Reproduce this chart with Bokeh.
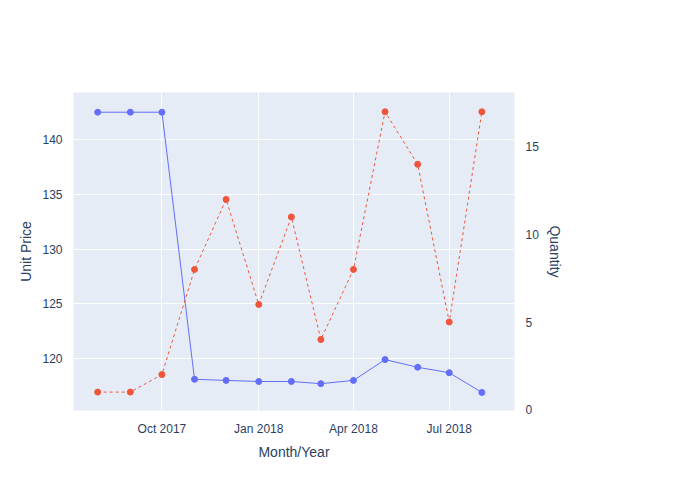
from datetime import datetime

from bokeh.embed import file_html
from bokeh.models import (DatetimeTickFormatter, FixedTicker, Label, Legend,
                          LegendItem, LinearAxis, Range1d)
from bokeh.plotting import figure
from bokeh.resources import INLINE

months = ["2017-08", "2017-09", "2017-10", "2017-11", "2017-12", "2018-01", "2018-02",
          "2018-03", "2018-04", "2018-05", "2018-06", "2018-07", "2018-08"]
price = [142.5, 142.5, 142.5, 118.1, 118.0, 117.9, 117.9, 117.7, 118.0, 119.9, 119.2, 118.7, 116.9]
quantity = [1, 1, 2, 8, 12, 6, 11, 4, 8, 17, 14, 5, 17]
tick_months = ["2017-10", "2018-01", "2018-04", "2018-07"]

dates = [datetime.strptime(m, "%Y-%m") for m in months]
FONT = "Liberation Sans"
TXT = "#2a3f5f"


def ms(d):
    return (d - datetime(1970, 1, 1)).total_seconds() * 1000


p = figure(width=684, height=484, x_axis_type="datetime", output_backend="svg",
           toolbar_location=None,
           x_range=Range1d(datetime(2017, 7, 9), datetime(2018, 9, 1)),
           y_range=Range1d(115.25, 144.3))
p.min_border_left = 73
p.min_border_top = 92
p.min_border_right = 170
p.min_border_bottom = 74
p.background_fill_color = "#e5ecf6"
p.outline_line_color = None
p.extra_y_ranges = {"q": Range1d(-0.05, 18.1)}

p.xaxis.ticker = FixedTicker(ticks=[ms(datetime.strptime(m, "%Y-%m")) for m in tick_months])
p.xaxis.formatter = DatetimeTickFormatter(months="%b %Y", days="%b %Y")
p.yaxis.ticker = FixedTicker(ticks=[120, 125, 130, 135, 140])
p.yaxis.axis_label = "Unit Price"
p.xaxis.axis_label = "Month/Year"

ax2 = LinearAxis(y_range_name="q", axis_label="Quantity",
                 ticker=FixedTicker(ticks=[0, 5, 10, 15]))
p.add_layout(ax2, "right")

for ax in [p.xaxis[0], p.yaxis[0], ax2]:
    ax.axis_line_color = None
    ax.major_tick_line_color = None
    ax.minor_tick_line_color = None
    ax.major_label_text_font = FONT
    ax.major_label_text_font_size = "12px"
    ax.major_label_text_color = TXT
    ax.axis_label_text_font = FONT
    ax.axis_label_text_font_size = "14px"
    ax.axis_label_text_font_style = "normal"
    ax.axis_label_text_color = TXT

p.grid.grid_line_color = "white"
p.grid.grid_line_width = 1

l1 = p.line(dates, price, color="#636efa", line_width=1)
c1 = p.scatter(dates, price, color="#636efa", size=6)
l2 = p.line(dates, quantity, color="#ef553b", line_width=1, line_dash="3 3", y_range_name="q")
c2 = p.scatter(dates, quantity, color="#ef553b", size=6, y_range_name="q")

legend = Legend(items=[LegendItem(label="perfumery2 - Price", renderers=[l1, c1]),
                       LegendItem(label="perfumery2 - Quantity", renderers=[l2, c2])],
                location=(448, 270), background_fill_alpha=0, border_line_color=None,
                label_text_font=FONT, label_text_font_size="12px", label_text_color=TXT,
                spacing=0, padding=2, glyph_width=30, label_height=14)
p.add_layout(legend, "center")

p.add_layout(Label(x=-46, y=362, x_units="screen", y_units="screen",
                   text="Trends for perfumery2 in perfumery", text_font=FONT,
                   text_font_size="17px", text_color=TXT))

open("out.html", "w").write(file_html(p, INLINE))
